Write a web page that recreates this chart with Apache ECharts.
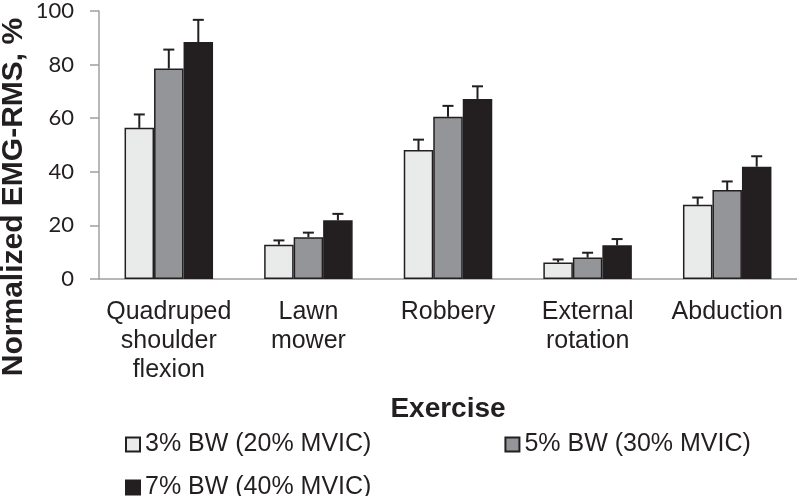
<!DOCTYPE html>
<html>
<head>
<meta charset="utf-8">
<script src="https://cdn.jsdelivr.net/npm/echarts@6/dist/echarts.min.js"></script>
<style>html,body{margin:0;padding:0;background:#fff;}#c{width:797px;height:496px;}</style>
</head>
<body>
<div id="c"></div>
<script>
const categories = ["Quadruped\nshoulder\nflexion", "Lawn\nmower", "Robbery", "External\nrotation", "Abduction"];
const seriesNames = ["3% BW (20% MVIC)", "5% BW (30% MVIC)", "7% BW (40% MVIC)"];
const bw3Mean = [56.4, 12.8, 48.1, 6.2, 27.7];
const bw3Err  = [5.0, 1.6, 3.9, 1.1, 2.7];
const bw5Mean = [78.5, 15.6, 60.5, 8.0, 33.2];
const bw5Err  = [7.1, 1.7, 4.1, 1.8, 3.2];
const bw7Mean = [88.4, 21.9, 67.2, 12.6, 41.9];
const bw7Err  = [8.3, 2.4, 4.7, 2.3, 3.9];
const yTicks = [0, 20, 40, 60, 80, 100];

const means = [bw3Mean, bw5Mean, bw7Mean];
const errs = [bw3Err, bw5Err, bw7Err];
const fills = ["#e9eaea", "#939598", "#231f20"];
const INK = "#231f20";
const BAR_W = 29.5;

const chart = echarts.init(document.getElementById('c'));

const barSeries = seriesNames.map((n, i) => ({
  name: n,
  type: 'bar',
  data: means[i],
  barWidth: BAR_W,
  barGap: '0%',
  itemStyle: { color: fills[i], borderColor: INK, borderWidth: 1.5 },
  emphasis: { disabled: true },
  z: 2
}));

const errSeries = seriesNames.map((n, i) => ({
  type: 'custom',
  name: 'err' + i,
  data: means[i].map((m, k) => [k, m, m + errs[i][k]]),
  encode: { x: 0, y: [1, 2] },
  z: 3,
  silent: true,
  renderItem: function (params, api) {
    const k = api.value(0);
    const p0 = api.coord([k, api.value(1)]);
    const p1 = api.coord([k, api.value(2)]);
    const x = p0[0] + (i - 1) * BAR_W;
    const cap = 5.5;
    return {
      type: 'group',
      children: [
        { type: 'line', shape: { x1: x, y1: p0[1], x2: x, y2: p1[1] }, style: { stroke: INK, lineWidth: 2 } },
        { type: 'line', shape: { x1: x - cap, y1: p1[1], x2: x + cap, y2: p1[1] }, style: { stroke: INK, lineWidth: 2 } }
      ]
    };
  }
}));

const legendText = { fontFamily: 'Liberation Sans', fontSize: 25, color: INK };

chart.setOption({
  animation: false,
  grid: { left: 99, right: 0, top: 9, bottom: 217, containLabel: false },
  xAxis: {
    type: 'category',
    data: categories,
    name: 'Exercise',
    nameLocation: 'middle',
    nameGap: 116,
    nameTextStyle: { fontFamily: 'Liberation Sans', fontWeight: 'bold', fontSize: 28, color: INK },
    axisLine: { lineStyle: { color: '#a0a0a0', width: 1.5 } },
    axisTick: { alignWithLabel: true, length: 5, lineStyle: { color: '#a0a0a0', width: 1.5 } },
    axisLabel: { interval: 0, margin: 19, fontFamily: 'Liberation Sans', fontSize: 25, lineHeight: 29, color: INK }
  },
  yAxis: {
    type: 'value',
    min: yTicks[0],
    max: yTicks[yTicks.length - 1],
    interval: yTicks[1] - yTicks[0],
    splitLine: { show: false },
    axisLine: { show: true, lineStyle: { color: '#a0a0a0', width: 1.5 } },
    axisTick: { show: true, length: 9, lineStyle: { color: '#a0a0a0', width: 1.5 } },
    axisLabel: { margin: 25, fontFamily: 'Lato', fontSize: 22, color: INK }
  },
  legend: [
    {
      data: [seriesNames[0], seriesNames[1]],
      left: 120, top: 427,
      itemWidth: 14, itemHeight: 14, itemGap: 133, itemTextGap: 5,
      icon: 'rect', selectedMode: false,
      textStyle: legendText
    },
    {
      data: [seriesNames[2]],
      left: 120, top: 470,
      itemWidth: 14, itemHeight: 14, itemTextGap: 5,
      icon: 'rect', selectedMode: false,
      textStyle: legendText
    }
  ],
  graphic: [
    {
      type: 'text',
      x: 14, y: 197,
      rotation: Math.PI / 2,
      style: {
        text: 'Normalized EMG-RMS, %',
        fontFamily: 'Liberation Sans', fontWeight: 'bold', fontSize: 30,
        fill: INK, align: 'center', verticalAlign: 'middle'
      }
    }
  ],
  series: barSeries.concat(errSeries)
});
</script>
</body>
</html>
